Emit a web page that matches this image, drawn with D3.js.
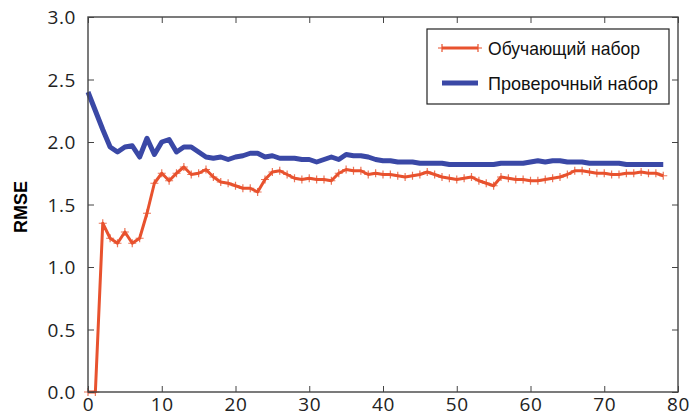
<!DOCTYPE html>
<html>
<head>
<meta charset="utf-8">
<script src="https://cdn.jsdelivr.net/npm/d3@7"></script>
<style>
  body { margin: 0; background: #fff; }
  svg { display: block; }
</style>
</head>
<body>
<svg width="693" height="416"></svg>
<script>
// training set size index 0..78
const trainRmse = [0, 0, 1.35, 1.23, 1.19, 1.28, 1.19, 1.23, 1.43, 1.67,
  1.75, 1.69, 1.75, 1.80, 1.74, 1.75, 1.78, 1.72, 1.68, 1.67,
  1.65, 1.63, 1.63, 1.60, 1.70, 1.76, 1.77, 1.74, 1.71, 1.70,
  1.71, 1.70, 1.70, 1.69, 1.75, 1.78, 1.77, 1.77, 1.74, 1.75,
  1.74, 1.74, 1.73, 1.72, 1.73, 1.74, 1.76, 1.74, 1.72, 1.71,
  1.70, 1.71, 1.72, 1.69, 1.67, 1.65, 1.72, 1.71, 1.70, 1.70,
  1.69, 1.69, 1.70, 1.71, 1.72, 1.74, 1.77, 1.77, 1.76, 1.75,
  1.75, 1.74, 1.74, 1.75, 1.75, 1.76, 1.75, 1.75, 1.73];

const valRmse = [2.40, 2.25, 2.10, 1.96, 1.92, 1.96, 1.97, 1.88, 2.03, 1.90,
  2.00, 2.02, 1.92, 1.96, 1.96, 1.92, 1.88, 1.87, 1.88, 1.86,
  1.88, 1.89, 1.91, 1.91, 1.88, 1.89, 1.87, 1.87, 1.87, 1.86,
  1.86, 1.84, 1.86, 1.88, 1.86, 1.90, 1.89, 1.89, 1.88, 1.86,
  1.85, 1.85, 1.84, 1.84, 1.84, 1.83, 1.83, 1.83, 1.83, 1.82,
  1.82, 1.82, 1.82, 1.82, 1.82, 1.82, 1.83, 1.83, 1.83, 1.83,
  1.84, 1.85, 1.84, 1.85, 1.85, 1.84, 1.84, 1.84, 1.83, 1.83,
  1.83, 1.83, 1.83, 1.82, 1.82, 1.82, 1.82, 1.82, 1.82];

const xTicks = [0, 10, 20, 30, 40, 50, 60, 70, 80];
const yTicks = [0, 0.5, 1.0, 1.5, 2.0, 2.5, 3.0];
const seriesNames = ["Обучающий набор", "Проверочный набор"];

const red = "#e8522e";
const blue = "#3a48a6";
const axisColor = "#444";

const svg = d3.select("svg");
const plot = {left: 88, right: 678, top: 17, bottom: 392};

const x = d3.scaleLinear().domain([0, 80]).range([plot.left, plot.right]);
const y = d3.scaleLinear().domain([0, 3]).range([plot.bottom, plot.top]);

// series lines
const line = d3.line().x((d, i) => x(i)).y(d => y(d));

svg.append("path")
  .datum(valRmse)
  .attr("d", line)
  .attr("fill", "none")
  .attr("stroke", blue)
  .attr("stroke-width", 5)
  .attr("stroke-linejoin", "round");

svg.append("path")
  .datum(trainRmse)
  .attr("d", line)
  .attr("fill", "none")
  .attr("stroke", red)
  .attr("stroke-width", 3)
  .attr("stroke-linejoin", "round");

// "+" markers on the training curve
svg.append("g").selectAll("path")
  .data(trainRmse)
  .join("path")
  .attr("d", "M-4,0H4M0,-4V4")
  .attr("transform", (d, i) => `translate(${x(i)},${y(d)})`)
  .attr("stroke", red)
  .attr("stroke-width", 1.2)
  .attr("opacity", 0.8);

// axes: ticks point inward on all four sides
const tickLen = 6;
const tickFont = "'Open Sans', sans-serif";

const gBottom = svg.append("g").attr("transform", `translate(0,${plot.bottom})`)
  .call(d3.axisBottom(x).tickValues(xTicks).tickSize(-tickLen).tickFormat(d3.format("d")));
const gTop = svg.append("g").attr("transform", `translate(0,${plot.top})`)
  .call(d3.axisTop(x).tickValues(xTicks).tickSize(-tickLen).tickFormat(""));
const gLeft = svg.append("g").attr("transform", `translate(${plot.left},0)`)
  .call(d3.axisLeft(y).tickValues(yTicks).tickSize(-tickLen).tickPadding(12).tickFormat(d3.format(".1f")));
const gRight = svg.append("g").attr("transform", `translate(${plot.right},0)`)
  .call(d3.axisRight(y).tickValues(yTicks).tickSize(-tickLen).tickFormat(""));

[gBottom, gTop, gLeft, gRight].forEach(g => {
  g.select(".domain").remove();
  g.selectAll(".tick line").attr("stroke", axisColor).attr("stroke-width", 1);
  g.selectAll("text").attr("fill", "#222").style("font-family", tickFont)
    .style("font-size", "19px").style("letter-spacing", "0.6px");
});
gBottom.selectAll("text").attr("y", 19).attr("dy", 0);
gLeft.selectAll("text").attr("dy", "0.36em");

svg.append("rect")
  .attr("x", plot.left).attr("y", plot.top)
  .attr("width", plot.right - plot.left).attr("height", plot.bottom - plot.top)
  .attr("fill", "none")
  .attr("stroke", axisColor)
  .attr("stroke-width", 1.4);

// y label
svg.append("text")
  .attr("transform", `translate(27,207) rotate(-90)`)
  .attr("text-anchor", "middle")
  .style("font-family", "'Liberation Sans', Arial, sans-serif")
  .style("font-weight", "bold")
  .style("font-size", "18px")
  .text("RMSE");

// legend
const legend = svg.append("g");
legend.append("rect")
  .attr("x", 427).attr("y", 29)
  .attr("width", 242).attr("height", 75)
  .attr("fill", "#fff")
  .attr("stroke", "#222")
  .attr("stroke-width", 1.2);

const legendColors = [red, blue];
const legendWidths = [3, 5];
const legendTextLen = [152, 170];
seriesNames.forEach((name, i) => {
  const ly = 48 + i * 35;
  legend.append("line")
    .attr("x1", 442).attr("x2", 478)
    .attr("y1", ly).attr("y2", ly)
    .attr("stroke", legendColors[i])
    .attr("stroke-width", legendWidths[i]);
  if (i === 0) {
    [442, 478].forEach(px => legend.append("path")
      .attr("d", `M${px - 4},${ly}H${px + 4}M${px},${ly - 4}V${ly + 4}`)
      .attr("stroke", red).attr("stroke-width", 1.2));
  }
  legend.append("text")
    .attr("x", 488).attr("y", ly)
    .attr("dy", "0.35em")
    .attr("textLength", legendTextLen[i])
    .attr("lengthAdjust", "spacingAndGlyphs")
    .style("font-family", "'Liberation Sans Narrow', 'Liberation Sans', Arial, sans-serif")
    .style("font-size", "19px")
    .attr("fill", "#111")
    .text(name);
});
</script>
</body>
</html>
